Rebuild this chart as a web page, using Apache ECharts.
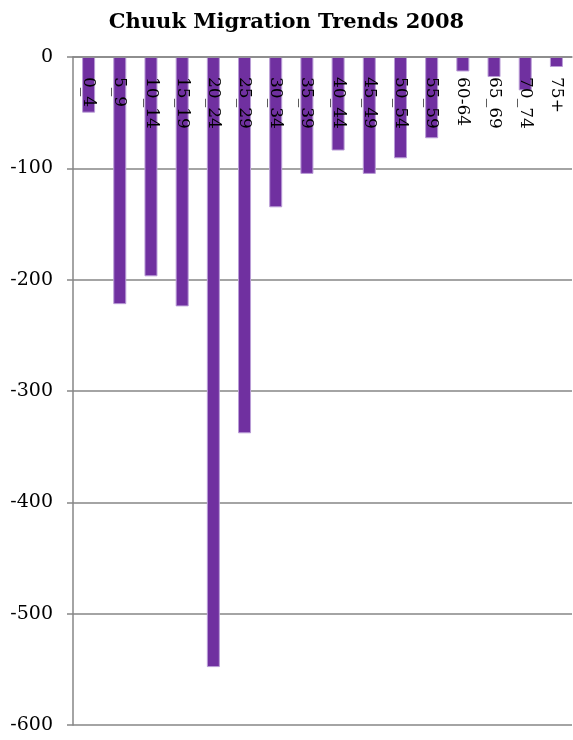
<!DOCTYPE html>
<html>
<head>
<meta charset="utf-8">
<script src="https://cdn.jsdelivr.net/npm/echarts@6/dist/echarts.min.js"></script>
<style>
  html, body { margin: 0; padding: 0; background: #fff; }
  #chart { width: 573px; height: 740px; }
</style>
</head>
<body>
<div id="chart"></div>
<script>
// Age groups and net migration counts
const ageGroups = ['0_4', '5_9', '10_14', '15_19', '20_24', '25_29', '30_34', '35_39',
                   '40_44', '45_49', '50_54', '55_59', '60-64', '65_69', '70_74', '75+'];
const netMigration = [-50, -222, -197, -224, -548, -338, -135, -105,
                      -84, -105, -91, -73, -13, -18, -30, -9];
const yTicks = { min: -600, max: 0, step: 100 };

const serif = 'DejaVu Serif';
const axisGray = '#868686';

const chart = echarts.init(document.getElementById('chart'), null, { renderer: 'canvas' });
chart.setOption({
  backgroundColor: '#ffffff',
  animation: false,
  textStyle: { fontFamily: serif },
  title: {
    text: 'Chuuk Migration Trends 2008',
    left: 'center',
    top: 7,
    textStyle: { fontFamily: serif, fontSize: 21, fontWeight: 'bold', color: '#000' }
  },
  grid: { left: 73, right: 1, top: 57, bottom: 15, containLabel: false },
  xAxis: {
    type: 'category',
    data: ageGroups,
    position: 'top',
    z: 5,
    axisLine: { onZero: false, lineStyle: { color: axisGray, width: 1.5 } },
    axisTick: { inside: true, length: 7, lineStyle: { color: axisGray, width: 1.5 } },
    axisLabel: {
      inside: true,
      rotate: 90,
      margin: 20,
      interval: 0,
      fontFamily: serif,
      fontSize: 17,
      color: '#000'
    }
  },
  yAxis: {
    type: 'value',
    min: yTicks.min,
    max: yTicks.max,
    interval: yTicks.step,
    axisLine: { show: true, lineStyle: { color: axisGray, width: 1.5 } },
    axisTick: { show: true, length: 6, lineStyle: { color: axisGray, width: 1.5 } },
    splitLine: { show: true, lineStyle: { color: axisGray, width: 1.5 } },
    axisLabel: { margin: 20, fontFamily: serif, fontSize: 19, color: '#000' }
  },
  series: [{
    type: 'bar',
    data: netMigration,
    barWidth: 13,
    z: 2,
    itemStyle: { color: '#7030A0', borderColor: '#b99cd6', borderWidth: 1 }
  }]
});
</script>
</body>
</html>
